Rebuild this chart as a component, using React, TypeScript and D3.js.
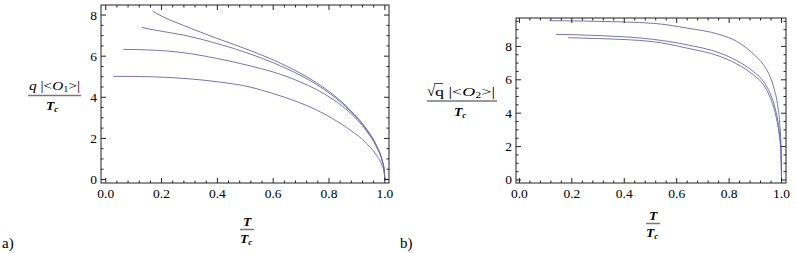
import React from "react";
import * as d3 from "d3";

// panel a) q|<O1>|/Tc against T/Tc
const aX1 = [0.168, 0.2, 0.278, 0.398, 0.517, 0.6, 0.7, 0.756, 0.814, 0.876, 0.935, 0.971, 0.99, 0.998, 1.0];
const aY1 = [8.19, 7.95, 7.5, 6.87, 6.28, 5.82, 5.15, 4.7, 4.14, 3.38, 2.45, 1.63, 0.96, 0.43, 0];
const aX2 = [0.129, 0.159, 0.278, 0.398, 0.517, 0.6, 0.7, 0.756, 0.814, 0.876, 0.935, 0.971, 0.99, 0.998, 1.0];
const aY2 = [7.4, 7.31, 7.03, 6.62, 6.11, 5.68, 5.05, 4.62, 4.07, 3.33, 2.41, 1.61, 0.945, 0.42, 0];
const aX3 = [0.063, 0.159, 0.278, 0.398, 0.517, 0.6, 0.7, 0.756, 0.814, 0.876, 0.935, 0.971, 0.99, 0.998, 1.0];
const aY3 = [6.33, 6.3, 6.17, 5.89, 5.53, 5.23, 4.73, 4.37, 3.9, 3.24, 2.35, 1.56, 0.92, 0.41, 0];
const aX4 = [0.027, 0.159, 0.278, 0.398, 0.517, 0.6, 0.685, 0.756, 0.814, 0.876, 0.935, 0.971, 0.99, 0.998, 1.0];
const aY4 = [5.02, 5.0, 4.92, 4.76, 4.5, 4.18, 3.79, 3.38, 2.95, 2.41, 1.75, 1.16, 0.685, 0.31, 0];

// panel b) sqrt(q)|<O2>|/Tc against T/Tc
const bX1 = [0.114, 0.3, 0.511, 0.638, 0.765, 0.829, 0.892, 0.931, 0.956, 0.972, 0.985, 0.993, 0.998, 1.0];
const bY1 = [9.54, 9.5, 9.38, 9.1, 8.7, 8.3, 7.55, 6.9, 6.2, 5.45, 4.5, 3.4, 2.0, 0];
const bX2 = [0.139, 0.3, 0.511, 0.638, 0.765, 0.829, 0.892, 0.931, 0.956, 0.973, 0.985, 0.993, 0.998, 1.0];
const bY2 = [8.72, 8.65, 8.42, 8.1, 7.6, 7.15, 6.5, 5.9, 5.2, 4.45, 3.6, 2.7, 1.6, 0];
const bX3 = [0.186, 0.3, 0.511, 0.638, 0.765, 0.829, 0.892, 0.931, 0.952, 0.97, 0.983, 0.992, 0.998, 1.0];
const bY3 = [8.52, 8.47, 8.28, 7.9, 7.4, 6.95, 6.3, 5.7, 5.1, 4.35, 3.5, 2.6, 1.5, 0];

const xTicks = [0, 0.2, 0.4, 0.6, 0.8, 1.0];
const yTicksA = [0, 2, 4, 6, 8];
const yTicksB = [0, 2, 4, 6, 8];

const serif = "Liberation Serif";
const lineColor = "#6767aa";

type Panel = {
  x0: number; x1: number; y0: number; y1: number;
  xDom: [number, number]; yDom: [number, number];
  yTicks: number[];
  series: [number[], number[]][];
};

const Frame = ({ p }: { p: Panel }) => {
  const x = d3.scaleLinear().domain(p.xDom).range([p.x0, p.x1]);
  const y = d3.scaleLinear().domain(p.yDom).range([p.y1, p.y0]);
  const line = d3
    .line<[number, number]>()
    .x((d) => x(d[0]))
    .y((d) => y(d[1]))
    .curve(d3.curveMonotoneX);

  const xMinor = d3.range(0, 1.0001, 0.04).filter((v) => Math.abs(v * 5 - Math.round(v * 5)) > 1e-6);
  const yMinor = d3.range(0, p.yDom[1], 0.5).filter((v) => Math.abs(v / 2 - Math.round(v / 2)) > 1e-6);

  return (
    <g>
      {p.series.map(([xs, ys], i) => (
        <path
          key={i}
          d={line(xs.map((v, j) => [v, ys[j]] as [number, number])) || ""}
          fill="none"
          stroke={lineColor}
          strokeWidth={0.9}
        />
      ))}
      <rect x={p.x0} y={p.y0} width={p.x1 - p.x0} height={p.y1 - p.y0} fill="none" stroke="#222" strokeWidth={1} />
      {xTicks.map((t) => (
        <g key={"xt" + t}>
          <line x1={x(t)} x2={x(t)} y1={p.y1} y2={p.y1 - 5} stroke="#222" />
          <line x1={x(t)} x2={x(t)} y1={p.y0} y2={p.y0 + 5} stroke="#222" />
          <text x={x(t)} y={p.y1 + 15} textAnchor="middle" fontFamily={serif} fontSize={13.5}>
            {t.toFixed(1)}
          </text>
        </g>
      ))}
      {xMinor.map((t) => (
        <g key={"xm" + t}>
          <line x1={x(t)} x2={x(t)} y1={p.y1} y2={p.y1 - 2.5} stroke="#222" />
          <line x1={x(t)} x2={x(t)} y1={p.y0} y2={p.y0 + 2.5} stroke="#222" />
        </g>
      ))}
      {p.yTicks.map((t) => (
        <g key={"yt" + t}>
          <line x1={p.x0} x2={p.x0 + 5} y1={y(t)} y2={y(t)} stroke="#222" />
          <line x1={p.x1} x2={p.x1 - 5} y1={y(t)} y2={y(t)} stroke="#222" />
          <text x={p.x0 - 4} y={y(t) + 4.5} textAnchor="end" fontFamily={serif} fontSize={13.5}>
            {t}
          </text>
        </g>
      ))}
      {yMinor.map((t) => (
        <g key={"ym" + t}>
          <line x1={p.x0} x2={p.x0 + 2.5} y1={y(t)} y2={y(t)} stroke="#222" />
          <line x1={p.x1} x2={p.x1 - 2.5} y1={y(t)} y2={y(t)} stroke="#222" />
        </g>
      ))}
    </g>
  );
};

const Tc = ({ cx, by }: { cx: number; by: number }) => (
  <text x={cx - 7} y={by} fontFamily={serif} fontSize={13.5} fontWeight="bold">
    <tspan fontStyle="italic">T</tspan>
    <tspan fontStyle="italic" fontSize={9} dy={2}>c</tspan>
  </text>
);

const TOverTc = ({ cx, by }: { cx: number; by: number }) => (
  <g>
    <text x={cx} y={by} textAnchor="middle" fontStyle="italic" fontWeight="bold" fontFamily={serif} fontSize={13.5}>T</text>
    <line x1={cx - 7} x2={cx + 7} y1={by + 3.5} y2={by + 3.5} stroke="#777" strokeWidth={1.5} />
    <Tc cx={cx} by={by + 17} />
  </g>
);

export default function App() {
  const pa: Panel = {
    x0: 101, x1: 389, y0: 5, y1: 183,
    xDom: [-0.017, 1.015], yDom: [-0.17, 8.49],
    yTicks: yTicksA,
    series: [[aX1, aY1], [aX2, aY2], [aX3, aY3], [aX4, aY4]],
  };
  const pb: Panel = {
    x0: 516, x1: 786, y0: 18, y1: 183,
    xDom: [-0.013, 1.017], yDom: [-0.18, 9.7],
    yTicks: yTicksB,
    series: [[bX1, bY1], [bX2, bY2], [bX3, bY3]],
  };

  return (
    <svg width={797} height={253} style={{ position: "absolute", left: 0, top: 0, background: "#fff" }}>
      <Frame p={pa} />
      <Frame p={pb} />

      {/* y label a */}
      <text x={29} y={90} fontFamily={serif} fontSize={13.5} textLength={51} lengthAdjust="spacingAndGlyphs">
        <tspan fontStyle="italic">q</tspan>
        <tspan> |&lt;</tspan>
        <tspan fontStyle="italic">O</tspan>
        <tspan fontSize={9} dy={2}>1</tspan>
        <tspan dy={-2}>&gt;|</tspan>
      </text>
      <line x1={28} x2={81} y1={95.5} y2={95.5} stroke="#777" strokeWidth={1.5} />
      <Tc cx={53} by={110} />

      {/* y label b */}
      <text x={427} y={96} fontFamily={serif} fontSize={15}>√</text>
      <line x1={434} x2={443} y1={83.5} y2={83.5} stroke="#222" strokeWidth={0.8} />
      <text x={435} y={96} fontFamily={serif} fontSize={13.5} textLength={60} lengthAdjust="spacingAndGlyphs">
        <tspan>q |&lt;</tspan>
        <tspan fontStyle="italic">O</tspan>
        <tspan fontSize={9} dy={2}>2</tspan>
        <tspan dy={-2}>&gt;|</tspan>
      </text>
      <line x1={427} x2={497} y1={101} y2={101} stroke="#777" strokeWidth={1.5} />
      <Tc cx={461} by={116} />

      <TOverTc cx={247} by={226} />
      <TOverTc cx={653} by={220} />

      <text x={2} y={248} fontFamily={serif} fontSize={15}>a)</text>
      <text x={400} y={248} fontFamily={serif} fontSize={15}>b)</text>
    </svg>
  );
}
